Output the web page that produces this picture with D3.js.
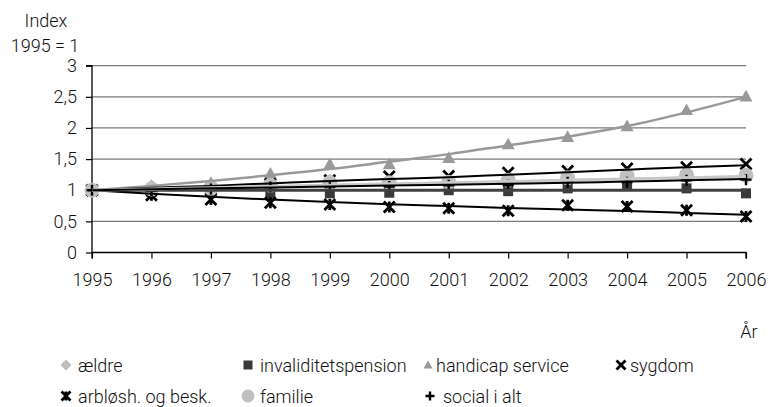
<!DOCTYPE html>
<html><head><meta charset="utf-8">
<script src="https://cdn.jsdelivr.net/npm/d3@7"></script>
<style>
body{margin:0;background:#fff;}
text{font-family:Roboto,"Noto Sans",sans-serif;font-weight:300;fill:#111;}
</style></head>
<body><svg id="c" width="769" height="407"></svg>
<script>
const years = [1995,1996,1997,1998,1999,2000,2001,2002,2003,2004,2005,2006];
const yTicks = [0,0.5,1,1.5,2,2.5,3];
// observed values (markers)
const aeldre      = [1.00,1.07,1.06,1.15,1.16,1.15,1.15,1.17,1.20,1.22,1.23,1.25];
const invaliditet = [1.00,0.97,0.98,0.95,0.95,0.96,1.00,0.985,1.03,1.07,1.03,0.95];
const handicap    = [1.00,1.05,1.12,1.27,1.42,1.42,1.52,1.74,1.86,2.03,2.29,2.51];
const sygdom      = [1.00,1.00,1.02,1.10,1.16,1.22,1.23,1.28,1.31,1.35,1.37,1.42];
const arbloesh    = [1.00,0.92,0.85,0.80,0.77,0.73,0.71,0.67,0.76,0.74,0.68,0.58];
const familie     = [1.00,1.02,1.03,1.08,1.12,1.12,1.13,1.16,1.20,1.23,1.24,1.24];
const social      = [1.00,0.99,1.02,1.05,1.06,1.06,1.08,1.08,1.13,1.13,1.16,1.17];
// trend lines
const aeldreTrend      = [1.00,1.02,1.04,1.06,1.08,1.10,1.12,1.14,1.16,1.18,1.20,1.22];
const invaliditetTrend = [1.00,1.00,1.00,1.00,1.00,1.00,1.00,1.00,1.00,1.00,1.00,1.00];
const handicapTrend    = [1.00,1.07,1.15,1.24,1.34,1.46,1.58,1.72,1.86,2.03,2.25,2.50];
const sygdomTrend      = [1.00,1.04,1.07,1.11,1.15,1.18,1.21,1.25,1.29,1.33,1.37,1.40];
const arbloeshTrend    = [1.00,0.945,0.895,0.85,0.81,0.775,0.745,0.715,0.69,0.665,0.635,0.605];
const familieTrend     = [1.00,1.02,1.04,1.06,1.08,1.10,1.12,1.14,1.16,1.18,1.20,1.22];
const socialTrend      = [1.00,1.015,1.03,1.045,1.06,1.075,1.09,1.105,1.12,1.14,1.16,1.18];
const seriesNames = ["ældre","invaliditetspension","handicap service","sygdom","arbløsh. og besk.","familie","social i alt"];

const styles = [
 {marker:"diamond", color:"#bdbdbd", lc:"#c4c4c4", lw:2.5},
 {marker:"square", color:"#3a3a3a", lc:"#404040", lw:3},
 {marker:"triangle", color:"#9a9a9a", lc:"#999", lw:2.5},
 {marker:"x", color:"#000", lc:"#000", lw:2},
 {marker:"star", color:"#000", lc:"#000", lw:2},
 {marker:"circle", color:"#c0c0c0", lc:"#c8c8c8", lw:3},
 {marker:"plus", color:"#000", lc:"#000", lw:2}
];
const valsAll = [aeldre,invaliditet,handicap,sygdom,arbloesh,familie,social];
const trendAll = [aeldreTrend,invaliditetTrend,handicapTrend,sygdomTrend,arbloeshTrend,familieTrend,socialTrend];
const series = seriesNames.map((n,i)=>Object.assign({name:n, vals:valsAll[i], trend:trendAll[i]}, styles[i]));

const svg = d3.select("#c");
svg.append("rect").attr("width",769).attr("height",407).attr("fill","#fff");
const x = d3.scalePoint().domain(years).range([92,746]);
const y = d3.scaleLinear().domain([0,3]).range([252.5,65.7]);

// gridlines
svg.append("g").selectAll("line").data(yTicks.filter(d=>d>0)).join("line")
  .attr("x1",92).attr("x2",746).attr("y1",d=>y(d)).attr("y2",d=>y(d))
  .attr("stroke","#7a7a7a").attr("stroke-width",1.3);

// axes
const xAxis = svg.append("g").attr("transform","translate(0,252.5)")
  .call(d3.axisBottom(x).tickSize(6).tickPadding(15));
const yAxis = svg.append("g").attr("transform","translate(92,0)")
  .call(d3.axisLeft(y).tickValues(yTicks).tickSize(6).tickPadding(9)
    .tickFormat(d=>String(d).replace(".",",")));
[xAxis,yAxis].forEach(g=>{
  g.select(".domain").attr("stroke","#000").attr("stroke-width",1.3);
  g.selectAll(".tick line").attr("stroke","#000").attr("stroke-width",1.2);
  g.selectAll("text").attr("font-family","Roboto,sans-serif").attr("font-weight",300)
   .attr("font-size",18).attr("fill","#111");
});
xAxis.select(".domain").attr("d","M92,6V0H746V6");
yAxis.select(".domain").attr("d","M-6,"+y(3)+"H0V"+y(0));

// titles
svg.append("text").attr("x",46).attr("y",27).attr("text-anchor","middle").attr("font-size",18).text("Index");
svg.append("text").attr("x",45).attr("y",52).attr("text-anchor","middle").attr("font-size",18).text("1995 = 1");
svg.append("text").attr("x",749).attr("y",338).attr("text-anchor","middle").attr("font-size",18).text("År");

function markerPath(type,s){
  const h=s/2;
  switch(type){
    case "diamond": return `M0,${-h}L${h},0L0,${h}L${-h},0Z`;
    case "square": return `M${-h},${-h}H${h}V${h}H${-h}Z`;
    case "triangle": return `M0,${-h}L${h},${h*0.8}L${-h},${h*0.8}Z`;
    case "x": return `M${-h},${-h}L${h},${h}M${h},${-h}L${-h},${h}`;
    case "star": return `M${-h},${-h}L${h},${h}M${h},${-h}L${-h},${h}M0,${-h}V${h}`;
    case "plus": return `M${-h},0H${h}M0,${-h}V${h}`;
  }
}
function drawMarker(g,type,color,size){
  if(type==="circle"){
    g.append("circle").attr("r",size/2).attr("fill",color);
  } else if(type==="x"||type==="star"||type==="plus"){
    g.append("path").attr("d",markerPath(type,size)).attr("stroke",color)
      .attr("stroke-width",type==="plus"?2.4:2.8).attr("fill","none");
  } else {
    g.append("path").attr("d",markerPath(type,size)).attr("fill",color);
  }
}
const msize = {diamond:13,square:10,triangle:13,x:11,star:11,plus:11,circle:15};

// markers
series.forEach(s=>{
  const g = svg.append("g");
  s.vals.forEach((v,i)=>{
    const m = g.append("g").attr("transform",`translate(${x(years[i])},${y(v)})`);
    drawMarker(m,s.marker,s.color,msize[s.marker]);
  });
});

// trend lines
const line = d3.line().x((d,i)=>x(years[i])).y(d=>y(d)).curve(d3.curveMonotoneX);
series.forEach(s=>{
  svg.append("path").attr("d",line(s.trend)).attr("fill","none")
    .attr("stroke",s.lc).attr("stroke-width",s.lw);
});

// legend
const legendPos = [
 {mx:66,tx:78,y:365},{mx:248,tx:260,y:365},{mx:428,tx:436,y:365},{mx:621,tx:630,y:365},
 {mx:66,tx:78,y:396},{mx:248,tx:260,y:396},{mx:430,tx:443,y:396}
];
const lsize = {diamond:11,square:9,triangle:9,x:9,star:9,plus:9,circle:13};
series.forEach((s,i)=>{
  const p = legendPos[i];
  const m = svg.append("g").attr("transform",`translate(${p.mx},${p.y})`);
  drawMarker(m,s.marker,s.color,lsize[s.marker]);
  svg.append("text").attr("x",p.tx).attr("y",p.y+6.5).attr("font-size",18).text(s.name);
});
</script></body></html>
